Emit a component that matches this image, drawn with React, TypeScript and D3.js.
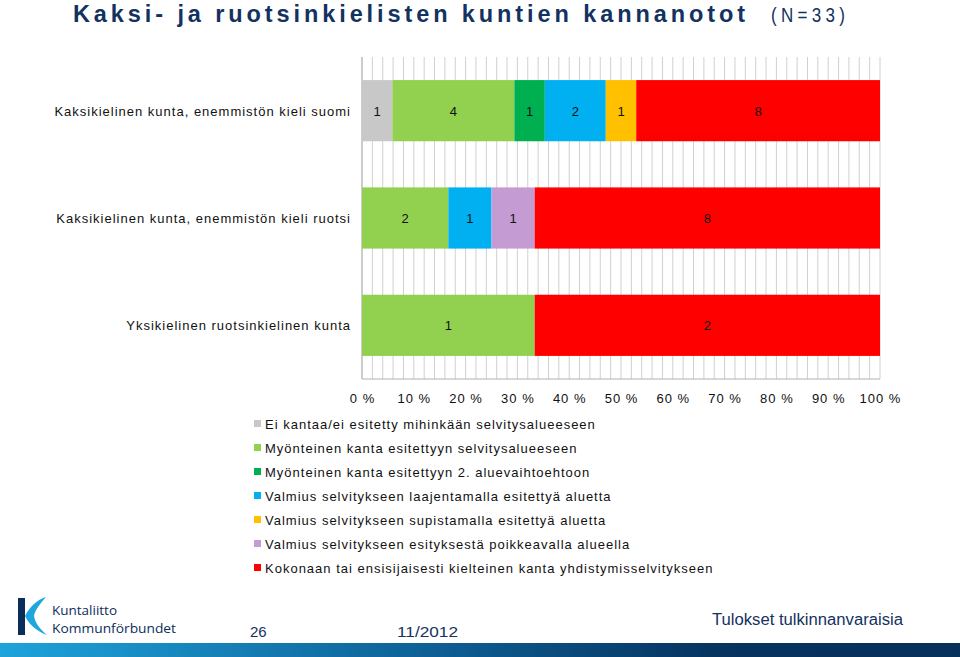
import React from "react";
import * as d3 from "d3";

const categories = [
  "Kaksikielinen kunta, enemmistön kieli suomi",
  "Kaksikielinen kunta, enemmistön kieli ruotsi",
  "Yksikielinen ruotsinkielinen kunta",
];
const seriesNames = [
  "Ei kantaa/ei esitetty mihinkään selvitysalueeseen",
  "Myönteinen kanta esitettyyn selvitysalueeseen",
  "Myönteinen kanta esitettyyn 2. aluevaihtoehtoon",
  "Valmius selvitykseen laajentamalla esitettyä aluetta",
  "Valmius selvitykseen supistamalla esitettyä aluetta",
  "Valmius selvitykseen esityksestä poikkeavalla alueella",
  "Kokonaan tai ensisijaisesti kielteinen kanta yhdistymisselvitykseen",
];
const seriesColors = ["#c8c8c8", "#92d050", "#00b050", "#00b0f0", "#ffc000", "#c49bd2", "#ff0000"];
// values per series, in category order
const s0 = [1, 0, 0];
const s1 = [4, 2, 1];
const s2 = [1, 0, 0];
const s3 = [2, 1, 0];
const s4 = [1, 0, 0];
const s5 = [0, 1, 0];
const s6 = [8, 8, 2];
const seriesValues = [s0, s1, s2, s3, s4, s5, s6];
const tickValues = [0, 0.1, 0.2, 0.3, 0.4, 0.5, 0.6, 0.7, 0.8, 0.9, 1.0];

const FONT = "Liberation Sans, Arial, sans-serif";
const LS = 1;

export default function App() {
  const W = 960, H = 657;
  const x = d3.scaleLinear().domain([0, 1]).range([362, 880]);
  const y = d3.scaleBand<string>().domain(categories).range([57, 379]).paddingInner(0.43).paddingOuter(0.215);
  const grid = d3.range(0, 1.0001, 0.02);

  const rows = categories.map((c, ci) => {
    const vals = seriesValues.map((s) => s[ci]);
    const total = d3.sum(vals);
    let acc = 0;
    const segs = vals.map((v, si) => {
      const x0 = acc / total;
      acc += v;
      return { v, si, x0, x1: acc / total };
    }).filter((s) => s.v > 0);
    return { c, segs };
  });

  const sx = 0.98;

  return (
    <svg width={W} height={H} style={{ position: "absolute", left: 0, top: 0, background: "#fff" }}>
      <defs>
        <linearGradient id="footer" x1="0" x2="1" y1="0" y2="0">
          <stop offset="0" stopColor="#1ea3db" />
          <stop offset="0.45" stopColor="#0d5f95" />
          <stop offset="0.75" stopColor="#06335f" />
          <stop offset="1" stopColor="#06305a" />
        </linearGradient>
      </defs>
      <rect x={0} y={0} width={W} height={H} fill="#fff" />
      {/* Title */}
      <g transform={`translate(73,22) scale(${sx},1)`}>
        <text x={0} y={0} fontFamily={FONT} fontWeight="bold" fontSize={24} fill="#14325f"
          textLength={672 / sx} lengthAdjust="spacing">Kaksi- ja ruotsinkielisten kuntien kannanotot</text>
      </g>
      <g transform={`translate(771,22) scale(0.85,1)`}>
        <text x={0} y={0} fontFamily={FONT} fontSize={20} fill="#14325f" textLength={74 / 0.85} lengthAdjust="spacing">(N=33)</text>
      </g>

      {/* gridlines */}
      {grid.map((g, i) => (
        <line key={i} x1={x(g)} x2={x(g)} y1={57} y2={379} stroke="#d0d0d0" strokeWidth={1} />
      ))}
      <line x1={362} x2={362} y1={57} y2={379} stroke="#b0b0b0" />
      <line x1={362} x2={880} y1={379} y2={379} stroke="#b0b0b0" />

      {/* bars */}
      {rows.map((r) => (
        <g key={r.c}>
          {r.segs.map((s) => (
            <g key={s.si}>
              <rect x={x(s.x0)} y={y(r.c)!} width={x(s.x1) - x(s.x0)} height={y.bandwidth()} fill={seriesColors[s.si]} />
              <text x={(x(s.x0) + x(s.x1)) / 2} y={y(r.c)! + y.bandwidth() / 2 + 5} textAnchor="middle"
                fontFamily={FONT} fontSize={13} fill="#111">{s.v}</text>
            </g>
          ))}
          <text x={351} y={y(r.c)! + y.bandwidth() / 2 + 5} textAnchor="end" fontFamily={FONT} fontSize={13}
            letterSpacing={LS} fill="#111">{r.c}</text>
        </g>
      ))}

      {/* x tick labels */}
      {tickValues.map((t) => (
        <text key={t} x={x(t) + 0.5} y={403} textAnchor="middle" fontFamily={FONT} fontSize={13} letterSpacing={LS} fill="#111">
          {`${Math.round(t * 100)} %`}
        </text>
      ))}

      {/* legend */}
      {seriesNames.map((n, i) => (
        <g key={n}>
          <rect x={254} y={420 + i * 24} width={7} height={7} fill={seriesColors[i]} />
          <text x={265} y={429 + i * 24} fontFamily={FONT} fontSize={13} letterSpacing={LS} fill="#111">{n}</text>
        </g>
      ))}

      {/* footer */}
      <g>
        <rect x={18} y={598} width={7} height={37} fill="#0b2d5a" />
        <path d="M25 616 C 30 606, 37 600, 46 597 C 40 604, 35 610, 34 616 C 35 623, 40 629, 47 635 C 37 631, 30 626, 25 616 Z" fill="#1fa6dc" />
        <text x={52} y={615} fontFamily="Open Sans, sans-serif" fontSize={13} fill="#0b2d5a" textLength={65} lengthAdjust="spacingAndGlyphs">Kuntaliitto</text>
        <text x={52} y={633} fontFamily="Open Sans, sans-serif" fontSize={13} fill="#0b2d5a" textLength={124} lengthAdjust="spacingAndGlyphs">Kommunförbundet</text>
        <text x={250} y={637} fontFamily={FONT} fontSize={15} fill="#14325f">26</text>
        <text x={397} y={637} fontFamily={FONT} fontSize={15} fill="#14325f" textLength={61} lengthAdjust="spacingAndGlyphs">11/2012</text>
        <text x={712} y={625} fontFamily={FONT} fontSize={16} fill="#14325f" textLength={191} lengthAdjust="spacingAndGlyphs">Tulokset tulkinnanvaraisia</text>
        <rect x={0} y={643} width={W} height={14} fill="url(#footer)" />
      </g>
    </svg>
  );
}
